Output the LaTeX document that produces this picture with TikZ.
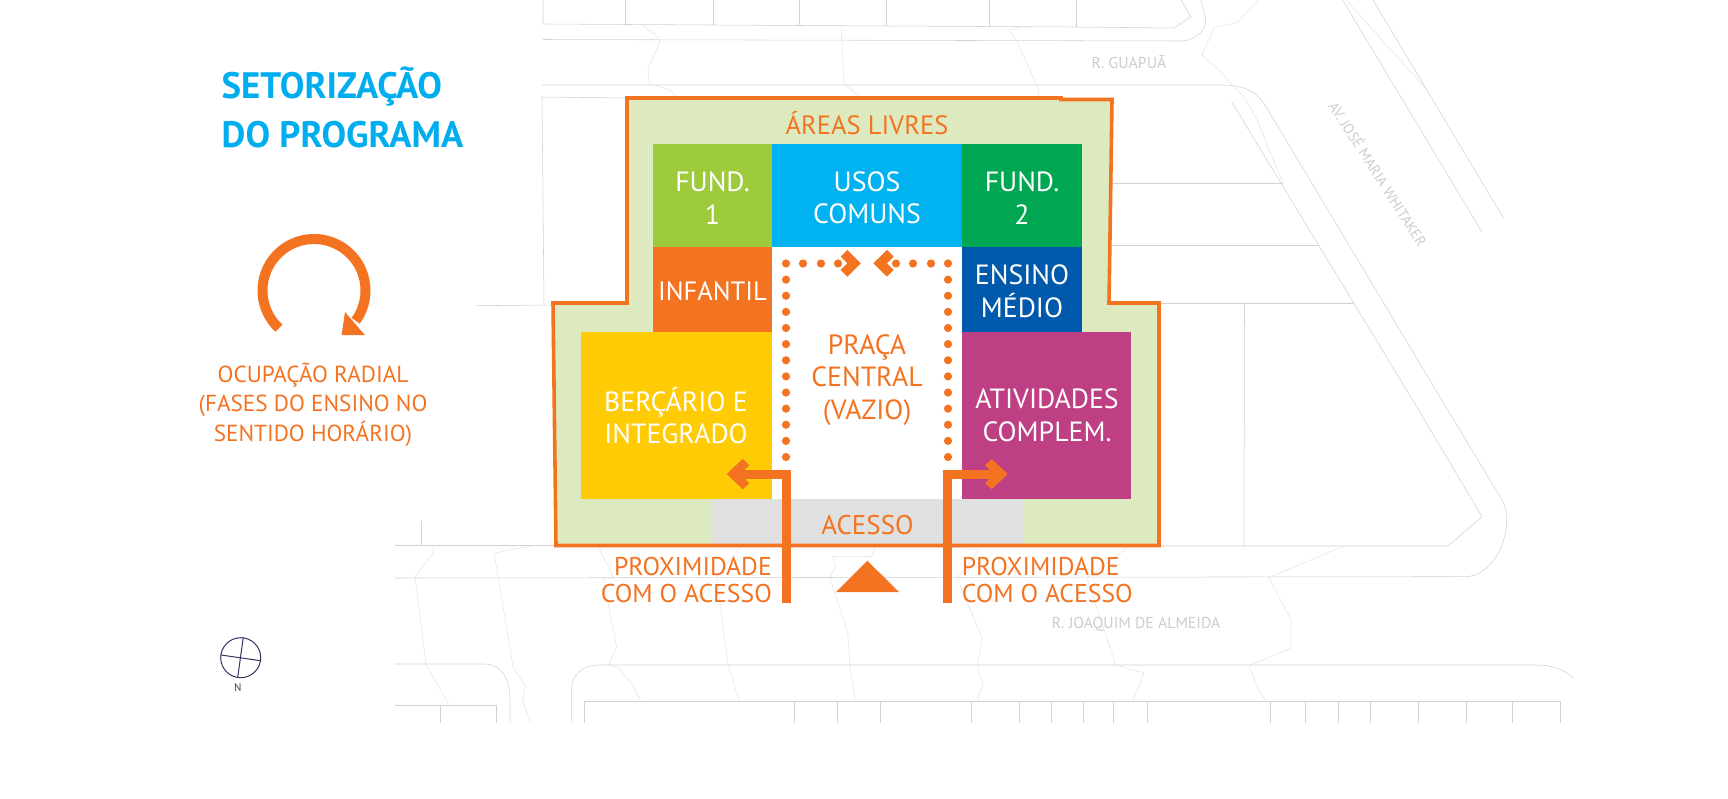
\documentclass[tikz,border=0pt]{standalone}
\usepackage{fontspec}
\setmainfont{PT Sans}
\definecolor{laranja}{HTML}{F47321}
\definecolor{verdeclaro}{HTML}{DDEABF}
\definecolor{amarelo}{HTML}{FFCB05}
\definecolor{magenta2}{HTML}{BF3F85}
\definecolor{azulesc}{HTML}{0059AB}
\definecolor{verde1}{HTML}{9ECB3B}
\definecolor{ciano}{HTML}{00B2F0}
\definecolor{verde2}{HTML}{00A651}
\definecolor{titulo}{HTML}{00AEEF}
\definecolor{cinza}{HTML}{E0E0E0}
\definecolor{rua}{HTML}{D2D2D2}
\definecolor{lote}{HTML}{E4E4E4}
\definecolor{nomerua}{HTML}{CDCDCD}
\tikzset{
  street/.style={draw=rua,line width=0.55pt},
  parcel/.style={draw=lote,line width=0.5pt},
  streetname/.style={text=nomerua,font=\fontsize{15.8}{18}\selectfont},
  whitelabel/.style={text=white,align=center,font=\fontsize{27.8}{32.5}\selectfont},
  orangelabel/.style={text=laranja,align=center,font=\fontsize{27.8}{32.5}\selectfont},
  proxlabel/.style={text=laranja,font=\fontsize{25.7}{27}\selectfont},
  sidelabel/.style={text=laranja,align=center,font=\fontsize{23.2}{29.5}\selectfont},
  titlelabel/.style={text=titulo,anchor=west,font=\fontsize{36.8}{49}\selectfont\bfseries,align=left},
  accessline/.style={draw=laranja,line width=9pt,line join=miter},
  chevron/.style={fill=laranja},
  dotmark/.style={fill=laranja}
}
\begin{document}
\begin{tikzpicture}[x=1pt,y=-1pt]
\useasboundingbox (0,0) rectangle (1728,798);
\fill[white] (0,0) rectangle (1728,798);

% street network: blocks to the north
\draw[street] (543,0) -- (543,24) -- (713,25) -- (886,26) -- (1076,27) -- (1174,28) -- (1191,16.7) -- (1181,0);
\foreach \px/\py in {625.5/24.5,713/25,799.6/25.5,886/26,989/26.5,1076.5/27}
  \draw[street] (\px,0) -- (\px,\py);
\draw[street] (543,39.5) -- (1180,41) .. controls (1198,41) and (1209,27) .. (1205,15) -- (1201,0);
\draw[street] (542,85) -- (1222,85) .. controls (1245,85) and (1258,92) .. (1268,110) -- (1441.7,400) -- (1502,500)
  .. controls (1516,525) and (1497,577) .. (1464.5,576.7) -- (394.5,578);
\draw[street] (1231.5,101.7) -- (1412.6,400) -- (1482,516.7) -- (1448,546) -- (1158,546);
\draw[street] (1342.5,0) -- (1482,232);
\draw[street] (1373,0) -- (1504,219);
\draw[parcel] (1346,0) -- (1427,90);
\draw[street] (1113,183.3) -- (1283,183.3);
\draw[street] (1112,245.3) -- (1318,245.3);
\draw[street] (1160,303.5) -- (1354,303.5);
\draw[street] (1244.5,303.5) -- (1244,546);
\draw[street] (626,98) -- (542,97) -- (544,305);
\draw[street] (476,305.7) -- (553,305);
% street network: south side
\draw[street] (394.5,545.7) -- (556,545.7);
\draw[street] (421,520.7) -- (421,545.7);
\draw[street] (394.5,664) -- (483,664) .. controls (503,664) and (510,680) .. (510,700) -- (510,722.7);
\draw[street] (571.4,722.7) -- (571.4,690) .. controls (571.4,675) and (583,665) .. (598,665) -- (1537,665)
  .. controls (1552,665) and (1565,670) .. (1573.6,678.3);
\draw[street] (584.7,722.7) -- (584.7,701.7) -- (1560,701.7) -- (1560,722.7);
\foreach \px in {794.5,837,880.6,971.6,1019,1051.7,1083.6,1113.5,1147.5,1270.7,1305.6,1338,1370,1418,1466,1512}
  \draw[street] (\px,701.7) -- (\px,722.7);
\draw[street] (394.5,705) -- (496.7,705) -- (496.7,722.7);
\draw[street] (440,705) -- (440,722.7);
% lot boundaries between the streets
\draw[parcel] (642.5,25) -- (661,39.3) -- (648,68.3) -- (649,83.3) -- (670,90) -- (677,96.7);
\draw[parcel] (841,26) -- (844,83.3) -- (860,97);
\draw[parcel] (1021,26.7) -- (1009.5,30) -- (1017,41.7) -- (1039,90) -- (1038,98);
\draw[parcel] (1258,0) -- (1237,22.7) -- (1214,27.7) -- (1202,55) -- (1222,73) -- (1231.5,85) -- (1245,98) -- (1257,120) -- (1283,183);
\draw[parcel] (433.6,545.7) -- (432.4,554) -- (415,576.7) -- (426,664) -- (449,705);
\draw[parcel] (533,545.7) -- (494,553) -- (513,666.7) -- (525.4,686.7) -- (522.4,701.7) -- (531,722.7);
\draw[parcel] (599,548) -- (613.4,576.7) -- (603,578) -- (616.5,646.7) -- (609,665) -- (619,668) -- (632.6,685) -- (641,701.7);
\draw[parcel] (739.7,548) -- (716.8,576.7) -- (728,665) -- (739.7,701.7);
\draw[parcel] (875.6,548) -- (870.6,556.7) -- (832.7,556.7) -- (835.4,566.7) -- (829.7,578) -- (847.7,633) -- (850,666.7) -- (855.7,701.7);
\draw[parcel] (950,546.7) -- (979,550) -- (957,578.3) -- (982.4,638.3) -- (977,665) -- (983,685) -- (977,701.7);
\draw[parcel] (1128.4,546.7) -- (1087,578) -- (1114,660) -- (1115,665) -- (1144,673) -- (1132.6,701.7);
\draw[parcel] (1344,546) -- (1268.7,577.7) -- (1291,620) -- (1291,648.3) -- (1248.8,665.7) -- (1257,686.7) -- (1266,701.7);

% street names
\node[streetname] (guapua) at (1129,61.7) {R. GUAPUÃ};
\node[streetname,rotate=-57.4,font=\fontsize{14.6}{18}\selectfont] (whitaker) at (1378.5,173.5) {AV. JOSÉ MARIA WHITAKER};
\node[streetname] (joaquim) at (1136,624) {R. JOAQUIM DE ALMEIDA};

% site outline with open areas
\fill[verdeclaro] (627,98) -- (1061,98) -- (1061,99.5) -- (1112,99.5) -- (1109,303) -- (1159,303) -- (1159,545.5) -- (556,545.5) -- (553,303) -- (627,303) -- cycle;

% programme sectors
\fill[verde1] (653,144) rectangle (772.3,247);
\fill[ciano] (772,144) rectangle (962.3,247);
\fill[verde2] (962,144) rectangle (1081.5,247);
\fill[laranja] (653,247) rectangle (772,332);
\fill[azulesc] (962,247) rectangle (1082,332);
\fill[amarelo] (581,331.7) rectangle (772,499);
\fill[magenta2] (962,331.7) rectangle (1131,499);
\fill[white] (772,247) rectangle (962,499);
\fill[cinza] (711,499) rectangle (1022.6,544);

% site boundary
\draw[laranja,line width=3.6pt,line join=miter] (627,98) -- (1061,98) -- (1061,99.5) -- (1112,99.5) -- (1109,303) -- (1159,303) -- (1159,545.5) -- (556,545.5) -- (553,303) -- (627,303) -- cycle;

% dotted ring around the central square
\foreach \k in {0,...,12}{
  \fill[dotmark] (786,263.5+16.125*\k) circle[radius=4.1];
  \fill[dotmark] (948,263.5+16.125*\k) circle[radius=4.1];
}
\foreach \px in {803,821,838,896,913,931}
  \fill[dotmark] (\px,263.5) circle[radius=4.1];
\fill[chevron] (847.3,250) -- (860.7,263.3) -- (847.3,276.7) -- (840.7,270) -- (847.3,263.3) -- (840.7,256.7) -- cycle;
\fill[chevron] (887,250) -- (873.3,263.3) -- (887,276.7) -- (893.7,270) -- (887,263.3) -- (893.7,256.7) -- cycle;

% access routes
\draw[accessline] (786.7,603) -- (786.7,474.3) -- (735,474.3);
\draw[accessline] (947.8,603) -- (947.8,474.3) -- (1000,474.3);
\fill[chevron] (726.7,474) -- (742.7,459) -- (749.3,465.3) -- (740,474) -- (749.3,483.3) -- (742.7,489.3) -- cycle;
\fill[chevron] (1007.7,474) -- (991.7,459) -- (985,465.3) -- (994.3,474) -- (985,483.3) -- (991.7,489.3) -- cycle;
\fill[laranja] (867.3,560.7) -- (899,592) -- (836,592) -- cycle;

% sector labels
\node[orangelabel,font=\fontsize{26.5}{32.5}\selectfont] (livres) at (867,123) {ÁREAS LIVRES};
\node[whitelabel] (fund1) at (712.5,198) {FUND.\\1};
\node[whitelabel] (usos) at (867,198) {USOS\\COMUNS};
\node[whitelabel] (fund2) at (1022,198) {FUND.\\2};
\node[whitelabel,font=\fontsize{26.5}{32.5}\selectfont] (infantil) at (712.5,291) {INFANTIL};
\node[whitelabel] (medio) at (1022,291.5) {ENSINO\\MÉDIO};
\node[orangelabel] (praca) at (867,380) {PRAÇA\\CENTRAL\\(VAZIO)};
\node[whitelabel] (bercario) at (676,415.5) {BERÇÁRIO E\\INTEGRADO};
\node[whitelabel] (atividades) at (1047,415.5) {ATIVIDADES\\COMPLEM.};
\node[orangelabel,font=\fontsize{27}{32.5}\selectfont] (acesso) at (867.5,525) {ACESSO};
\node[proxlabel,anchor=east,align=right,inner sep=0pt] (proxL) at (772,580) {PROXIMIDADE\\COM O ACESSO};
\node[proxlabel,anchor=west,align=left,inner sep=0pt] (proxR) at (961.6,580) {PROXIMIDADE\\COM O ACESSO};

% title and side note
\node[titlelabel,inner sep=0pt] (titulo) at (221.5,107.5) {SETORIZAÇÃO\\DO PROGRAMA};
\node[sidelabel] (radial) at (313,404.5) {OCUPAÇÃO RADIAL\\(FASES DO ENSINO NO\\SENTIDO HORÁRIO)};

% clockwise occupation arrow
\draw[laranja,line width=10pt] plot[domain=227:-36,samples=80] ({314+51.5*cos(\x)},{290.5-51.5*sin(\x)});
\fill[laranja] (345,312) -- (341.6,335) -- (364.8,335) -- cycle;

% north marker
\draw[draw=black!70!blue!60!gray,line width=1pt] (240.7,657.7) circle[radius=20];
\draw[draw=black!70!blue!60!gray,line width=1pt] (243.3,637.3) -- (237.7,677.3);
\draw[draw=black!70!blue!60!gray,line width=1pt] (221,655) -- (260.7,660.7);
\node[text=black!75,font=\fontsize{11}{13}\selectfont] (norte) at (237.7,687.7) {N};
\end{tikzpicture}
\end{document}
